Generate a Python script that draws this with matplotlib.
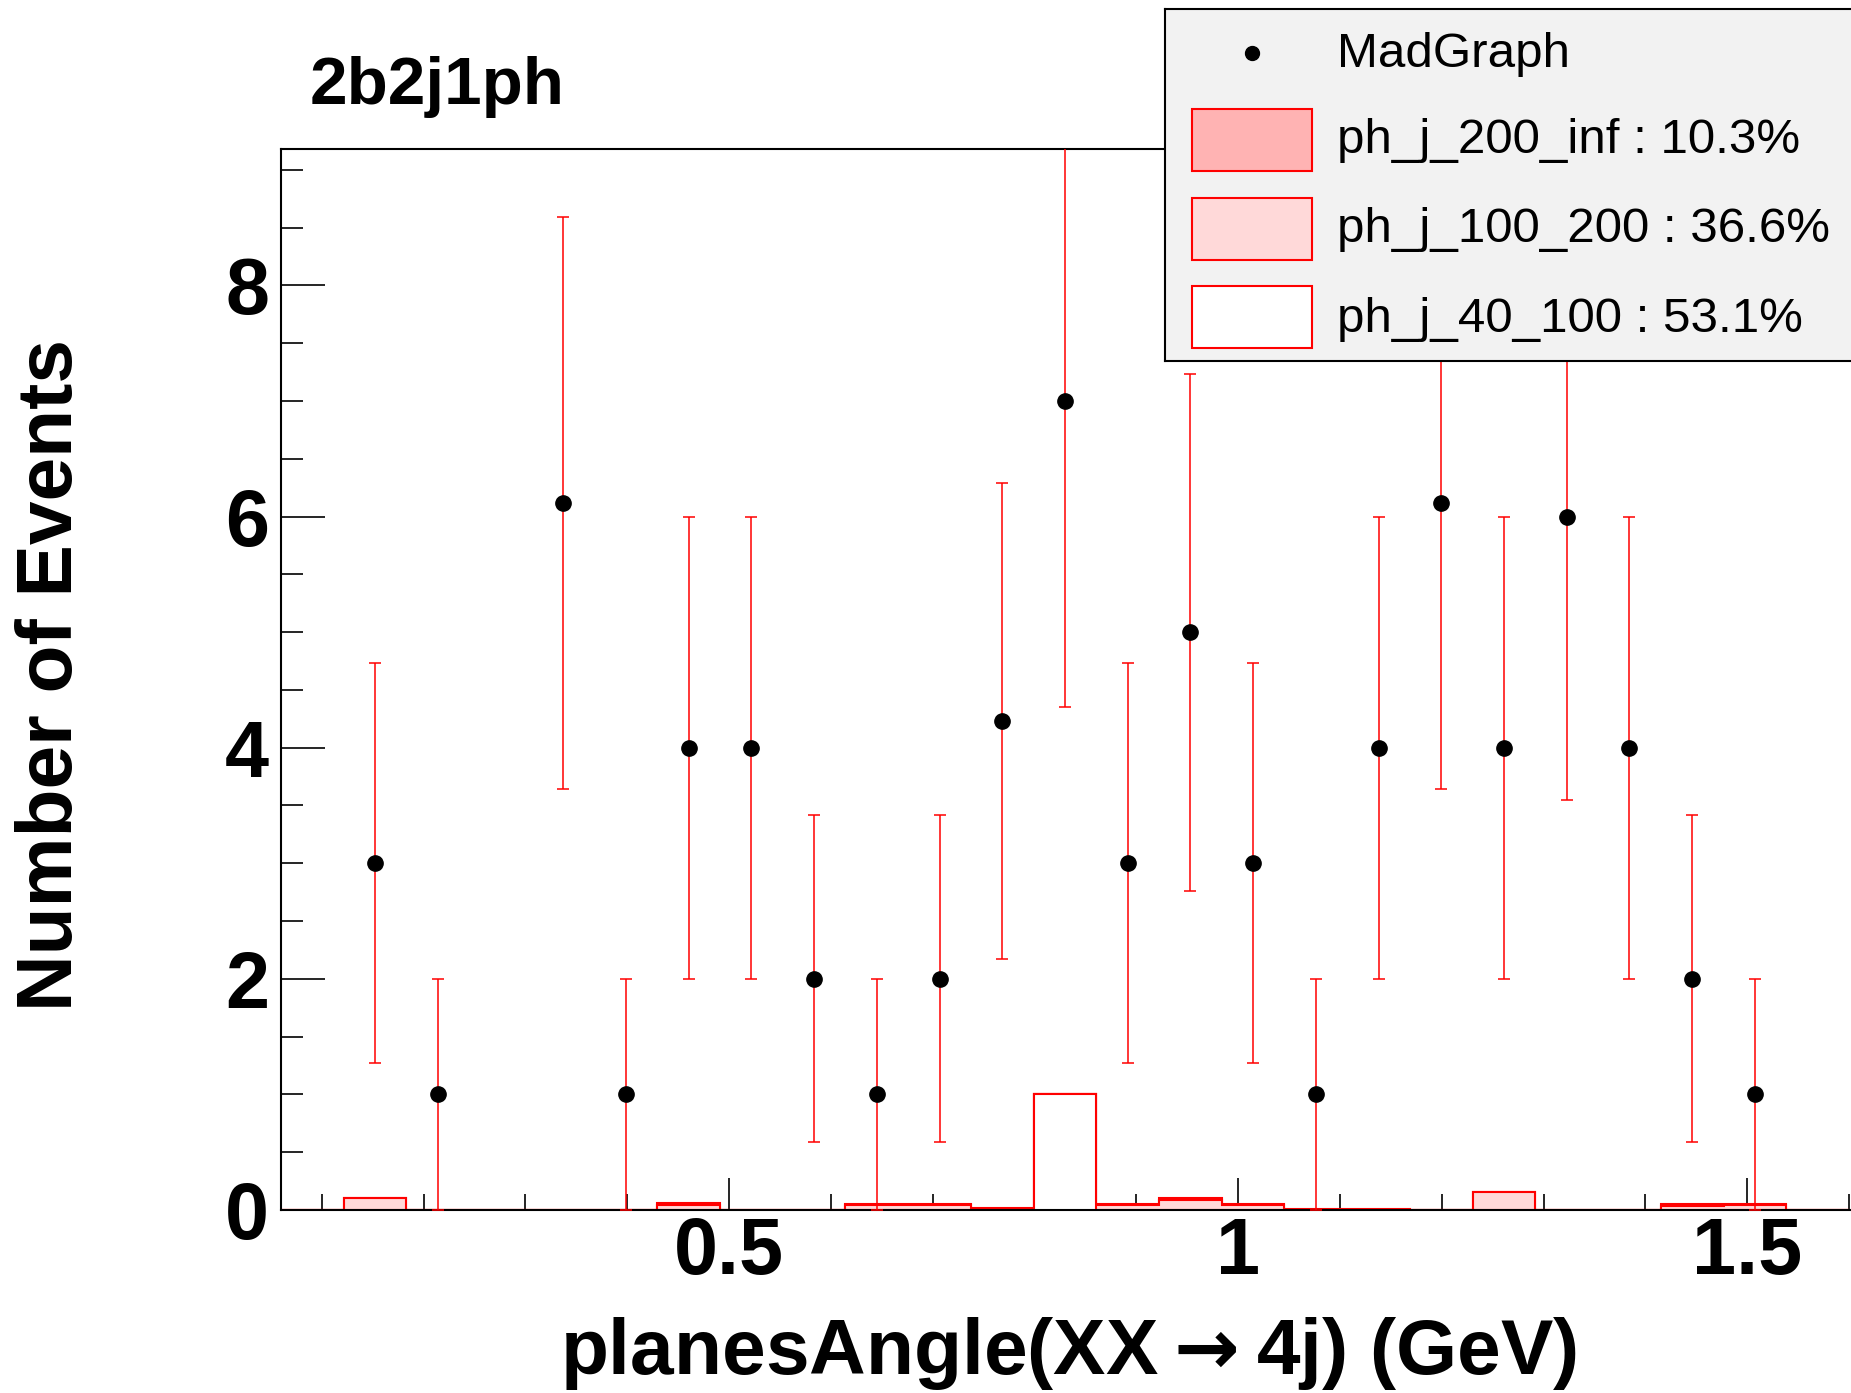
#!/usr/bin/env python

import numpy as n
import matplotlib
matplotlib.use('Agg')
import matplotlib.pyplot as plt
from matplotlib.ticker import MultipleLocator, FormatStrFormatter
from matplotlib.patches import Rectangle

plt.rcParams['font.family'] = ['Liberation Sans', 'DejaVu Sans']
plt.rcParams['font.weight'] = 'bold'

# binning of planesAngle
x_min = 0.06
x_max = 1.6
n_bins = 25

# MadGraph events per bin
madgraph = [0, 3, 1, 0, 6.12, 1, 4, 4, 2, 1, 2, 4.23, 7,
            3, 5, 3, 1, 4, 6.12, 4, 6, 4, 2, 1, 0]

# stacked MC samples per bin
ph_j_40_100 = [0, 0, 0, 0, 0, 0, 0, 0, 0, 0, 0, 0, 1.0,
               0, 0, 0, 0, 0, 0, 0, 0, 0, 0, 0, 0]
ph_j_100_200 = [0, 0.10, 0, 0, 0, 0, 0.04, 0, 0, 0.045, 0.045, 0, 0,
                0.04, 0.087, 0.04, 0, 0, 0, 0.155, 0, 0, 0.035, 0.04, 0]
ph_j_200_inf = [0, 0, 0, 0, 0, 0, 0.02, 0, 0, 0.01, 0.01, 0.02, 0,
                0.01, 0.02, 0.01, 0.012, 0.012, 0, 0, 0, 0, 0.02, 0.01, 0]

legend_labels = ['MadGraph', 'ph_j_200_inf : 10.3%',
                 'ph_j_100_200 : 36.6%', 'ph_j_40_100 : 53.1%']
stack_colors = ['#ffb3b3', '#ffd9d9', 'white']


if __name__ == '__main__':
    edges = n.linspace(x_min, x_max, n_bins + 1)
    centers = 0.5 * (edges[1:] + edges[:-1])
    data = n.array(madgraph)

    lvl1 = n.array(ph_j_40_100)
    lvl2 = lvl1 + n.array(ph_j_100_200)
    lvl3 = lvl2 + n.array(ph_j_200_inf)

    W, H = 1851, 1393
    fig = plt.figure(figsize=(W / 100, H / 100), dpi=100)
    ax = fig.add_axes([281 / W, 183 / H, 1570 / W, 1061 / H])

    for lvl, col in zip([lvl3, lvl2, lvl1], stack_colors):
        ax.stairs(lvl, edges, baseline=0, fill=True, facecolor=col,
                  edgecolor='red', linewidth=1.5, zorder=2)

    mask = data > 0
    ax.errorbar(centers[mask], data[mask], yerr=n.sqrt(data[mask]),
                fmt='o', color='black', ms=11, ecolor='red',
                elinewidth=1.1, capsize=4, capthick=1.1, zorder=5)

    ax.set_xlim(0.06, 1.602)
    ax.set_ylim(0, 9.18)

    ax.xaxis.set_major_locator(MultipleLocator(0.5))
    ax.xaxis.set_minor_locator(MultipleLocator(0.1))
    ax.yaxis.set_major_locator(MultipleLocator(2))
    ax.yaxis.set_minor_locator(MultipleLocator(0.5))
    ax.xaxis.set_major_formatter(FormatStrFormatter('%g'))
    ax.yaxis.set_major_formatter(FormatStrFormatter('%g'))

    ax.tick_params(which='both', direction='in', top=False, right=False,
                   width=1.2, labelsize=57)
    ax.xaxis.set_tick_params(which='major', length=23, pad=4)
    ax.xaxis.set_tick_params(which='minor', length=11.5)
    ax.yaxis.set_tick_params(which='major', length=32, pad=8.5)
    ax.yaxis.set_tick_params(which='minor', length=16)
    for sp in ax.spines.values():
        sp.set_linewidth(1.5)
    ax.spines['right'].set_visible(False)

    fig.text(1068 / W, 1 - 1374 / H, r'planesAngle(XX$\rightarrow$4j) (GeV)',
             ha='center', va='baseline', fontsize=56.5)
    fig.text(52 / W, 1 - 675 / H, 'Number of Events', rotation=90,
             ha='center', va='center', fontsize=56.5)
    fig.text(310 / W, 1 - 104 / H, '2b2j1ph', ha='left', va='baseline',
             fontsize=48.5)

    # legend box
    lax = fig.add_axes([1165 / W, 1 - 361 / H, 720 / W, 352 / H], zorder=10)
    lax.set_xlim(1165, 1885)
    lax.set_ylim(361, 9)
    lax.set_facecolor('#f2f2f2')
    lax.set_xticks([])
    lax.set_yticks([])
    for sp in lax.spines.values():
        sp.set_linewidth(1.5)

    lax.plot(1252, 53, 'o', color='black', ms=10)
    sw_tops = [109, 198, 286]
    for top, col in zip(sw_tops, stack_colors):
        lax.add_patch(Rectangle((1192, top), 120, 62, facecolor=col,
                                edgecolor='red', linewidth=1.5))
    baselines = [67, 153, 242, 332]
    for yb, lab in zip(baselines, legend_labels):
        lax.text(1337, yb, lab, ha='left', va='baseline', fontsize=35.5,
                 fontweight='normal')

    fig.savefig('out.png', dpi=100)
